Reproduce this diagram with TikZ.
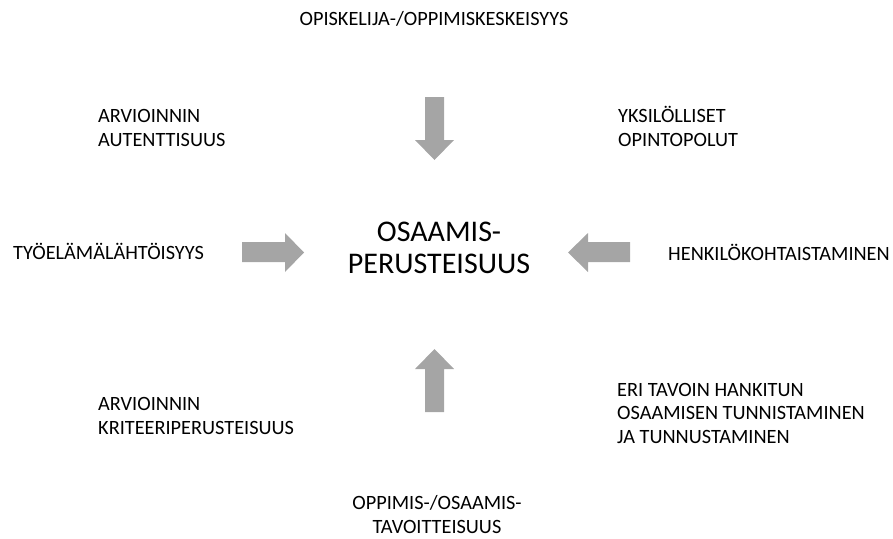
\documentclass[tikz,border=0pt]{standalone}
\usepackage{fontspec}
\setmainfont{Carlito}
\definecolor{arrowgray}{HTML}{A5A5A5}
\tikzset{
  label/.style={inner sep=0pt, anchor=base west, align=left, font=\fontsize{20.3}{23.5}\selectfont},
  midlabel/.style={inner sep=0pt, anchor=base, align=center, font=\fontsize{20.3}{23.5}\selectfont},
  titlelabel/.style={inner sep=0pt, anchor=base, align=center, font=\fontsize{30}{31.5}\selectfont},
  blockarrow/.style={fill=arrowgray}
}
\begin{document}
\begin{tikzpicture}[x=1pt,y=-1pt]
\useasboundingbox (0,0) rectangle (893,538);
% centre (base = last line)
\node[titlelabel] (core) at (439,273) {OSAAMIS-\\PERUSTEISUUS};
% around
\node[midlabel] (top) at (434,25) {OPISKELIJA-/OPPIMISKESKEISYYS};
\node[label] (autent) at (98,146) {ARVIOINNIN\\AUTENTTISUUS};
\node[label] (polut) at (618,146) {YKSILÖLLISET\\OPINTOPOLUT};
\node[label] (tyoelama) at (13,259) {TYÖELÄMÄLÄHTÖISYYS};
\node[label] (henk) at (668,260) {HENKILÖKOHTAISTAMINEN};
\node[label] (tunn) at (617,443) {ERI TAVOIN HANKITUN\\OSAAMISEN TUNNISTAMINEN\\JA TUNNUSTAMINEN};
\node[label] (kriteeri) at (98,434) {ARVIOINNIN\\KRITEERIPERUSTEISUUS};
\node[midlabel] (tavoite) at (437,533) {OPPIMIS-/OSAAMIS-\\TAVOITTEISUUS};
% block arrows
\fill[blockarrow] (425,97) -- (444,97) -- (444,140) -- (454,140) -- (434.5,160) -- (415,140) -- (425,140) -- cycle;
\fill[blockarrow] (425,412) -- (444,412) -- (444,369) -- (454,369) -- (434.5,349) -- (415,369) -- (425,369) -- cycle;
\fill[blockarrow] (242,242) -- (285,242) -- (285,233) -- (304,252.5) -- (285,272) -- (285,262) -- (242,262) -- cycle;
\fill[blockarrow] (630,242) -- (588,242) -- (588,233) -- (568,252.5) -- (588,272) -- (588,262) -- (630,262) -- cycle;
\end{tikzpicture}
\end{document}
